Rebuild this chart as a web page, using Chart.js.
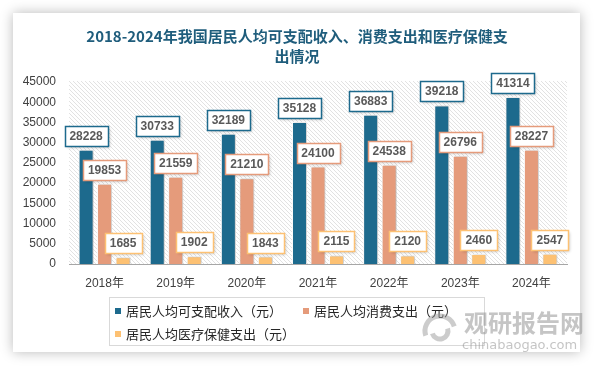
<!DOCTYPE html>
<html><head><meta charset="utf-8">
<script src="https://cdn.jsdelivr.net/npm/chart.js@4.4.1/dist/chart.umd.min.js"></script>
<style>
html,body{margin:0;padding:0;background:#fff;width:594px;height:366px;overflow:hidden;}
#card{position:absolute;left:13px;top:13px;width:567px;height:339px;background:#fff;box-shadow:0 0 12px rgba(0,0,0,0.28);}
#c{position:absolute;left:0;top:0;}
</style></head>
<body>
<div id="card"></div>
<canvas id="c" width="594" height="366"></canvas>
<script>
const titleLines = ['2018-2024年我国居民人均可支配收入、消费支出和医疗保健支', '出情况'];
const categories = ['2018年','2019年','2020年','2021年','2022年','2023年','2024年'];
const seriesNames = ['居民人均可支配收入（元）','居民人均消费支出（元）','居民人均医疗保健支出（元）'];
const income = [28228,30733,32189,35128,36883,39218,41314];
const consumption = [19853,21559,21210,24100,24538,26796,28227];
const medical = [1685,1902,1843,2115,2120,2460,2547];
const colors = ['#1d6a8d','#e59b7b','#fdc173'];
const watermarkText = ['观研报告网','chinabaogao.com'];

function makeHatch(){
  const t=document.createElement('canvas'); t.width=4; t.height=4;
  const g=t.getContext('2d');
  g.strokeStyle='#e2e2e2'; g.lineWidth=1;
  g.beginPath(); g.moveTo(-1,-1); g.lineTo(5,5); g.stroke();
  g.beginPath(); g.moveTo(-1,3); g.lineTo(1,5); g.stroke();
  g.beginPath(); g.moveTo(3,-1); g.lineTo(5,1); g.stroke();
  return g.createPattern(t,'repeat');
}

const decor = {
  id:'decor',
  beforeDraw(chart){
    const ctx=chart.ctx, a=chart.chartArea;
    ctx.save();
    ctx.fillStyle=makeHatch();
    ctx.fillRect(a.left,a.top-1,a.right-a.left,a.bottom-a.top+1);
    ctx.fillStyle='#1f5d7c';
    ctx.font='bold 15px "Noto Sans CJK SC"';
    ctx.textAlign='center'; ctx.textBaseline='middle';
    ctx.fillText(titleLines[0],297,36);
    ctx.fillText(titleLines[1],297,56);
    ctx.restore();
  },
  beforeDatasetsDraw(chart){
    const ctx=chart.ctx; ctx.save();
    ctx.shadowColor='rgba(0,0,0,0.25)'; ctx.shadowBlur=2; ctx.shadowOffsetX=1; ctx.shadowOffsetY=0;
  },
  afterDatasetsDraw(chart){
    const ctx=chart.ctx; ctx.restore();
    ctx.save();
    ctx.font='bold 12px "Liberation Sans"';
    ctx.textAlign='center'; ctx.textBaseline='middle';
    chart.data.datasets.forEach((ds,i)=>{
      const meta=chart.getDatasetMeta(i);
      meta.data.forEach((el,j)=>{
        const txt=String(ds.data[j]);
        const w=Math.round(ctx.measureText(txt).width)+10, h=20;
        const x=Math.round(el.x-w/2)+0.5, y=Math.round(el.y-4-h)+0.5;
        ctx.save();
        ctx.shadowColor='rgba(0,0,0,0.25)'; ctx.shadowBlur=3; ctx.shadowOffsetX=1; ctx.shadowOffsetY=1;
        ctx.fillStyle='#fff'; ctx.fillRect(x,y,w,h);
        ctx.restore();
        ctx.strokeStyle=colors[i]; ctx.lineWidth=1.5; ctx.strokeRect(x,y,w,h);
        ctx.fillStyle='#595959'; ctx.fillText(txt,el.x,y+h/2+0.5);
      });
    });
    ctx.restore();
  },
  afterDraw(chart){
    const ctx=chart.ctx; ctx.save();
    ctx.strokeStyle='#d9d9d9'; ctx.lineWidth=1;
    ctx.strokeRect(109.5,297.5,375,48);
    ctx.font='13px "Noto Sans CJK SC"'; ctx.textBaseline='middle'; ctx.textAlign='left';
    const pos=[[115,311],[303,311],[115,334]];
    seriesNames.forEach((n,i)=>{
      const [x,y]=pos[i];
      ctx.fillStyle=colors[i]; ctx.fillRect(x,y-3,6,6);
      ctx.fillStyle='#262626'; ctx.fillText(n,x+11,y);
    });
    ctx.globalAlpha=0.5;
    ctx.strokeStyle='#9a9a9a'; ctx.lineWidth=5;
    ctx.beginPath(); ctx.arc(440,331,15,Math.PI*0.9,Math.PI*1.9); ctx.stroke();
    ctx.beginPath(); ctx.arc(440,331,8,Math.PI*1.9,Math.PI*2.9); ctx.stroke();
    ctx.fillStyle='#8c8c8c';
    ctx.font='bold 24px "Noto Sans CJK SC"'; ctx.textAlign='left';
    ctx.fillText(watermarkText[0],464,323);
    ctx.font='13px "DejaVu Sans"';
    ctx.fillText(watermarkText[1],462,346);
    ctx.restore();
  }
};

new Chart(document.getElementById('c'),{
  type:'bar',
  data:{
    labels:categories,
    datasets:[
      {label:seriesNames[0],data:income,backgroundColor:colors[0]},
      {label:seriesNames[1],data:consumption,backgroundColor:colors[1]},
      {label:seriesNames[2],data:medical,backgroundColor:colors[2]}
    ].map(d=>Object.assign(d,{borderColor:'#ffffff',borderWidth:1,categoryPercentage:0.78,barPercentage:0.81}))
  },
  options:{
    responsive:false, animation:false, devicePixelRatio:1,
    layout:{padding:{top:82,left:0,right:27,bottom:0}},
    plugins:{legend:{display:false},title:{display:false},tooltip:{enabled:false}},
    scales:{
      x:{
        grid:{display:false,drawTicks:false},
        border:{display:true,color:'#a6a6a6',width:1},
        ticks:{color:'#404040',font:{family:'"Liberation Sans","Noto Sans CJK SC"',size:12},padding:12,maxRotation:0},
        afterFit(s){s.height=102;}
      },
      y:{
        min:0,max:45000,
        grid:{display:false,drawTicks:false},
        border:{display:false},
        ticks:{stepSize:5000,color:'#404040',font:{family:'"Liberation Sans"',size:12},padding:13,callback:v=>String(v)},
        afterFit(s){s.width=69;}
      }
    }
  },
  plugins:[decor]
});
</script>
</body></html>
